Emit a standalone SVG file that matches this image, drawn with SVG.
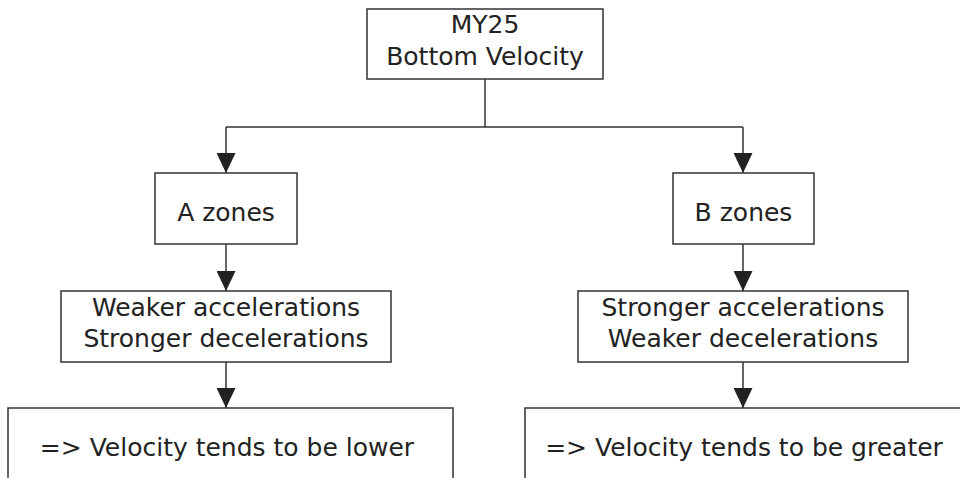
<svg xmlns="http://www.w3.org/2000/svg" width="960" height="478" viewBox="0 0 960 478">
<defs>
<style>
.box{fill:#fff;stroke:#333;stroke-width:1.5}
.t{font-family:"DejaVu Sans",sans-serif;font-size:25px;fill:#222;text-anchor:middle}
.c{fill:none;stroke:#333;stroke-width:1.5}
</style>
<marker id="ah" markerUnits="userSpaceOnUse" markerWidth="20" markerHeight="19" refX="20" refY="9.5" orient="auto" viewBox="0 0 20 19">
<path d="M0,0 L20,9.5 L0,19 Z" fill="#222"/>
</marker>
</defs>
<rect width="960" height="478" fill="#fff"/>
<g id="connectors">
<path class="c" d="M485,79 V127"/>
<path class="c" d="M226,127 H743"/>
<path class="c" d="M226,127 V173" marker-end="url(#ah)"/>
<path class="c" d="M743,127 V173" marker-end="url(#ah)"/>
<path class="c" d="M226,244 V291" marker-end="url(#ah)"/>
<path class="c" d="M743,244 V291" marker-end="url(#ah)"/>
<path class="c" d="M226,362 V408" marker-end="url(#ah)"/>
<path class="c" d="M743,362 V408" marker-end="url(#ah)"/>
</g>
<g id="top">
<rect class="box" x="367" y="9" width="236" height="70"/>
<text class="t" x="485" y="33">MY25</text>
<text class="t" x="485" y="65">Bottom Velocity</text>
</g>
<g id="a-zones">
<rect class="box" x="155" y="173" width="142" height="71"/>
<text class="t" x="226" y="221">A zones</text>
</g>
<g id="b-zones">
<rect class="box" x="673" y="173" width="141" height="71"/>
<text class="t" x="743.5" y="221">B zones</text>
</g>
<g id="a-effects">
<rect class="box" x="61" y="291" width="330" height="71"/>
<text class="t" x="226" y="316">Weaker accelerations</text>
<text class="t" x="226" y="347">Stronger decelerations</text>
</g>
<g id="b-effects">
<rect class="box" x="578" y="291" width="330" height="71"/>
<text class="t" x="743" y="316">Stronger accelerations</text>
<text class="t" x="743" y="347">Weaker decelerations</text>
</g>
<g id="a-result">
<rect class="box" x="8" y="408" width="445" height="90"/>
<text class="t" x="227" y="456">=&gt; Velocity tends to be lower</text>
</g>
<g id="b-result">
<rect class="box" x="525" y="408" width="460" height="90"/>
<text class="t" x="744" y="456">=&gt; Velocity tends to be greater</text>
</g>
</svg>
